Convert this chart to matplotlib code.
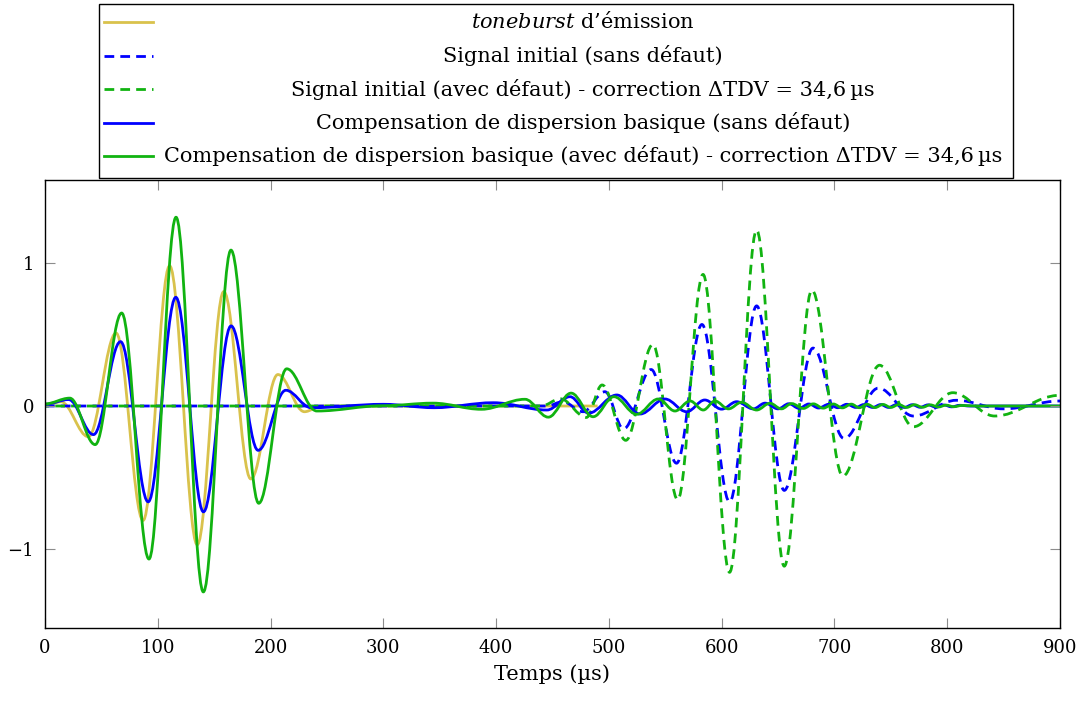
import numpy as np
import matplotlib
matplotlib.use("Agg")
import matplotlib.pyplot as plt
from matplotlib.path import Path
from matplotlib.patches import PathPatch, Rectangle
from matplotlib.lines import Line2D

plt.rcParams['font.family'] = ['DejaVu Serif']
plt.rcParams['mathtext.fontset'] = 'custom'
plt.rcParams['mathtext.rm'] = 'DejaVu Serif'
plt.rcParams['mathtext.it'] = 'DejaVu Serif:italic'

# extrema (time in µs, amplitude)
tb_t = [0, 14, 38.5, 63, 87, 110.5, 135, 158.5, 182.5, 206.5, 230, 245, 490]
tb_y = [0, 0.03, -0.215, 0.51, -0.80, 0.98, -0.97, 0.80, -0.51, 0.22, -0.04, 0, 0]

db_t = [0, 445, 459, 477, 496.5, 513, 537.5, 560, 582.5, 607, 631, 655.5, 681,
        708.5, 739, 770, 808, 850, 900]
db_y = [0, 0, 0.03, -0.04, 0.10, -0.16, 0.255, -0.40, 0.57, -0.67, 0.70, -0.59, 0.405,
        -0.227, 0.125, -0.07, 0.04, -0.02, 0.035]

dg_t = [0, 440, 457, 480, 494, 515, 539, 561, 583.5, 607, 631, 655.5, 680,
        707.5, 740, 770, 805, 842, 900]
dg_y = [0, 0, 0.05, -0.08, 0.147, -0.24, 0.43, -0.655, 0.92, -1.163, 1.23, -1.12, 0.81,
        -0.49, 0.285, -0.145, 0.093, -0.07, 0.075]

cb_t = [0, 21, 43, 67, 91.5, 116, 140.5, 165, 189, 213.5, 236, 300, 345, 397.5,
        445, 465.5, 482, 507, 527.6, 549.7, 569, 585, 600, 613.3, 628, 638.5, 650,
        659.6, 668.5, 677.4, 686, 695, 703, 711, 719, 726, 734, 741, 748, 755, 762,
        769, 776, 783, 790, 797, 804, 811, 820, 900]
cb_y = [0.012, 0.045, -0.20, 0.45, -0.67, 0.76, -0.74, 0.56, -0.31, 0.11, -0.012,
        0.012, -0.012, 0.023, -0.028, 0.065, -0.05, 0.077, -0.056, 0.049, -0.04,
        0.042, -0.022, 0.03, -0.02, 0.02, -0.02, 0.016, -0.016, 0.014, -0.014,
        0.012, -0.012, 0.012, -0.01, 0.01, -0.01, 0.01, -0.01, 0.01, -0.01, 0.009,
        -0.009, 0.008, -0.008, 0.007, -0.006, 0.005, 0, 0]

cg_t = [0, 22, 44.5, 68, 92.2, 116.2, 140.4, 164.9, 189.5, 214.3, 241, 300, 344,
        387, 425.6, 446.3, 466.5, 486, 504.5, 524.6, 543.8, 558.6, 572, 583.7, 594,
        606, 617.7, 631, 642.8, 653, 662, 672.4, 681.3, 690, 699, 707, 715, 722,
        729, 736, 743, 750, 757, 764, 771, 778, 785, 792, 799, 806, 813, 825, 900]
cg_y = [0.015, 0.055, -0.27, 0.65, -1.07, 1.32, -1.30, 1.09, -0.68, 0.26, -0.035,
        0.002, 0.02, -0.023, 0.047, -0.078, 0.09, -0.075, 0.065, -0.058, 0.049,
        -0.035, 0.035, -0.028, 0.035, -0.02, 0.026, -0.028, 0.019, -0.02, 0.017,
        -0.017, 0.015, -0.015, 0.014, -0.013, 0.013, -0.012, 0.012, -0.011, 0.011,
        -0.01, 0.01, -0.01, 0.009, -0.009, 0.008, -0.007, 0.006, -0.005, 0.004, 0, 0]

labels = [
    r'$\it{toneburst}$ d’émission',
    'Signal initial (sans défaut)',
    'Signal initial (avec défaut) - correction ΔTDV = 34,6\u2009µs',
    'Compensation de dispersion basique (sans défaut)',
    'Compensation de dispersion basique (avec défaut) - correction ΔTDV = 34,6\u2009µs',
]
colors = ['#d9c24c', '#0000ff', '#11b311', '#0000ff', '#11b311']
dash = (3.5, 2.2)
styles = ['-', (0, dash), (2, dash), '-', '-']
leg_styles = ['-', (0, dash), (0, dash), '-', '-']
series = [(tb_t, tb_y), (db_t, db_y), (dg_t, dg_y), (cb_t, cb_y), (cg_t, cg_y)]


def wave_path(ts, ys, k=0.3642):
    # smooth curve through the extrema (horizontal tangent at each one)
    verts = [(ts[0], ys[0])]
    codes = [Path.MOVETO]
    for i in range(len(ts) - 1):
        d = ts[i + 1] - ts[i]
        verts += [(ts[i] + k * d, ys[i]), (ts[i + 1] - k * d, ys[i + 1]),
                  (ts[i + 1], ys[i + 1])]
        codes += [Path.CURVE4] * 3
    return Path(verts, codes)


W, H = 1086, 702
fig = plt.figure(figsize=(W / 100, H / 100), dpi=100)
ax = fig.add_axes([45 / W, 1 - 628 / H, (1060 - 45) / W, (628 - 180) / H])

for (ts, ys), c, ls in zip(series, colors, styles):
    ax.add_patch(PathPatch(wave_path(ts, ys), fill=False, edgecolor=c, lw=2,
                           linestyle=ls, joinstyle='round', capstyle='butt'))

ax.set_xlim(0, 900)
ax.set_ylim(-1.552, 1.580)
ax.set_xticks([0, 100, 200, 300, 400, 500, 600, 700, 800, 900])
ax.set_yticks([-1, 0, 1])
ax.tick_params(direction='in', length=7, width=0.8, color='0.55', labelsize=13,
               top=True, right=True, pad=8)
for s in ax.spines.values():
    s.set_linewidth(1)
ax.set_xlabel('Temps (µs)', fontsize=15, labelpad=5)

# legend box above the axes, entries centred like in pgfplots
fig.add_artist(Rectangle((99 / W, 1 - 178 / H), (1013 - 99) / W, 174 / H,
                         fill=False, lw=1, ec='black', transform=fig.transFigure))
rows = [22, 55.5, 89, 122.5, 156]
for yy, lab, c, ls in zip(rows, labels, colors, leg_styles):
    fig.add_artist(Line2D([104 / W, 153 / W], [1 - yy / H] * 2, color=c, lw=2,
                          linestyle=ls, transform=fig.transFigure))
    fig.text(583 / W, 1 - yy / H, lab, ha='center', va='center', fontsize=15)

fig.savefig('out.png', dpi=100)
